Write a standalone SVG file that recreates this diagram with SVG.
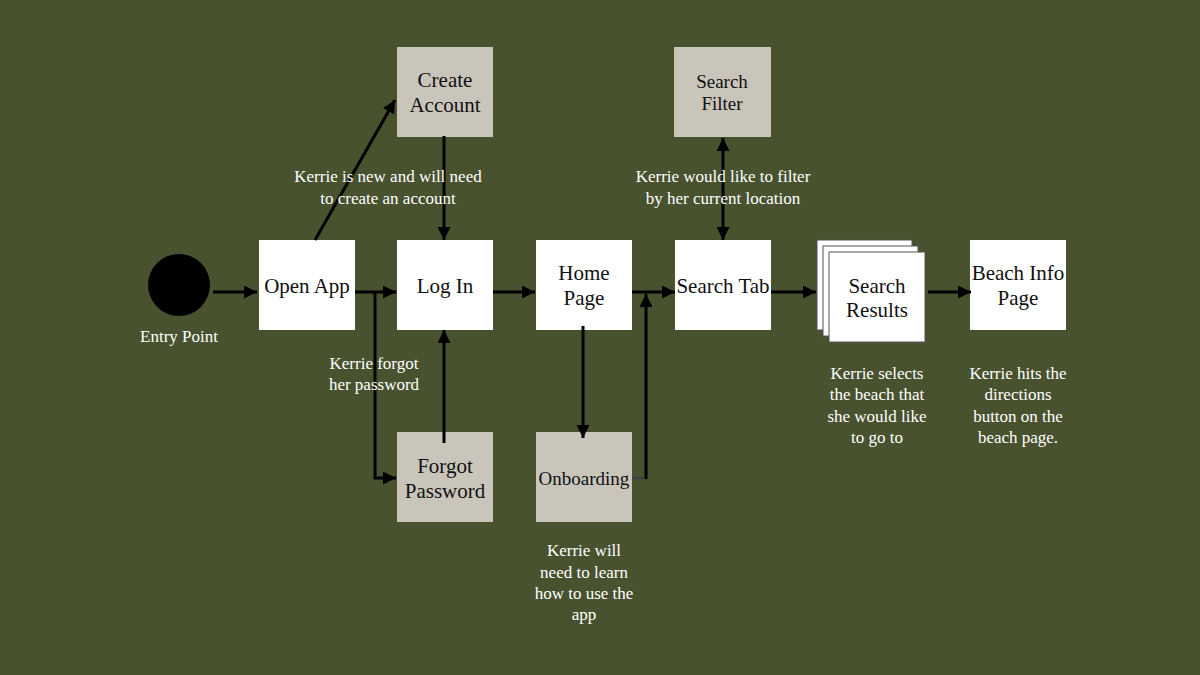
<svg xmlns="http://www.w3.org/2000/svg" width="1200" height="675" viewBox="0 0 1200 675">
<style>
.bg{fill:#48522F}
.w{fill:#FFFFFF}
.g{fill:#C9C5BB}
.sr{fill:#FFFFFF;stroke:#555;stroke-width:1}
.nt{font-family:"Liberation Serif",serif;font-size:21px;fill:#111;text-anchor:middle}
.ns{font-family:"Liberation Serif",serif;font-size:19px;fill:#111;text-anchor:middle}
.lt{font-family:"Liberation Serif",serif;font-size:17px;fill:#FFFFFF;text-anchor:middle}
.c{stroke:#000;stroke-width:3;fill:none}
</style>
<defs>
<marker id="ah" viewBox="0 0 12 12" refX="12" refY="6" markerWidth="13" markerHeight="13" markerUnits="userSpaceOnUse" orient="auto-start-reverse">
<path d="M0,0 L12,6 L0,12 z" fill="#000"/>
</marker>
</defs>
<rect class="bg" x="0" y="0" width="1200" height="675"/>

<g id="entry">
<circle cx="179" cy="285" r="31" fill="#000"/>
<text class="lt" x="179" y="342">Entry Point</text>
</g>
<g id="open-app">
<rect class="w" x="259" y="240" width="96" height="90"/>
<text class="nt" x="307" y="293">Open App</text>
</g>
<g id="log-in">
<rect class="w" x="397" y="240" width="96" height="90"/>
<text class="nt" x="445" y="293">Log In</text>
</g>
<g id="home-page">
<rect class="w" x="536" y="240" width="96" height="90"/>
<text class="nt" x="584" y="280">Home</text>
<text class="nt" x="584" y="305">Page</text>
</g>
<g id="search-tab">
<rect class="w" x="675" y="240" width="96" height="90"/>
<text class="nt" x="723" y="293">Search Tab</text>
</g>
<g id="search-results">
<rect class="sr" x="817" y="240" width="95" height="90"/>
<rect class="sr" x="823" y="246" width="95" height="90"/>
<rect class="sr" x="829" y="252" width="96" height="90"/>
<text class="nt" x="877" y="293">Search</text>
<text class="nt" x="877" y="317">Results</text>
</g>
<g id="beach-info">
<rect class="w" x="970" y="240" width="96" height="90"/>
<text class="nt" x="1018" y="280">Beach Info</text>
<text class="nt" x="1018" y="305">Page</text>
</g>
<g id="create-account">
<rect class="g" x="397" y="47" width="96" height="90"/>
<text class="nt" x="445" y="87">Create</text>
<text class="nt" x="445" y="112">Account</text>
</g>
<g id="search-filter">
<rect class="g" x="674" y="47" width="97" height="90"/>
<text class="ns" x="722" y="88">Search</text>
<text class="ns" x="722" y="110">Filter</text>
</g>
<g id="forgot-password">
<rect class="g" x="397" y="432" width="96" height="90"/>
<text class="nt" x="445" y="473">Forgot</text>
<text class="nt" x="445" y="498">Password</text>
</g>
<g id="onboarding">
<rect class="g" x="536" y="432" width="96" height="90"/>
<text class="ns" x="584" y="485">Onboarding</text>
</g>

<g id="connectors">
<line class="c" x1="213" y1="292" x2="257" y2="292" marker-end="url(#ah)"/>
<line class="c" x1="355" y1="292" x2="396" y2="292" marker-end="url(#ah)"/>
<polyline class="c" points="375,292 375,478 396,478" marker-end="url(#ah)"/>
<line class="c" x1="444" y1="443" x2="444" y2="330" marker-end="url(#ah)"/>
<line class="c" x1="444" y1="136" x2="444" y2="240" marker-end="url(#ah)"/>
<line class="c" x1="315" y1="240" x2="395" y2="100" marker-end="url(#ah)"/>
<line class="c" x1="493" y1="292" x2="535" y2="292" marker-end="url(#ah)"/>
<line class="c" x1="632" y1="292" x2="675" y2="292" marker-end="url(#ah)"/>
<line class="c" x1="583" y1="326" x2="583" y2="438" marker-end="url(#ah)"/>
<line x1="632" y1="478" x2="647" y2="478" stroke="#3C3F4A" stroke-width="2"/>
<line class="c" x1="646" y1="479" x2="646" y2="294" marker-end="url(#ah)"/>
<line class="c" x1="723" y1="138" x2="723" y2="240" marker-start="url(#ah)" marker-end="url(#ah)"/>
<line class="c" x1="771" y1="292" x2="816" y2="292" marker-end="url(#ah)"/>
<line class="c" x1="928" y1="292" x2="971" y2="292" marker-end="url(#ah)"/>
</g>

<g id="labels">
<text class="lt" x="388" y="182">Kerrie is new and will need</text>
<text class="lt" x="388" y="204">to create an account</text>
<text class="lt" x="374" y="369">Kerrie forgot</text>
<text class="lt" x="374" y="390">her password</text>
<text class="lt" x="723" y="182">Kerrie would like to filter</text>
<text class="lt" x="723" y="204">by her current location</text>
<text class="lt" x="877" y="379">Kerrie selects</text>
<text class="lt" x="877" y="400">the beach that</text>
<text class="lt" x="877" y="422">she would like</text>
<text class="lt" x="877" y="443">to go to</text>
<text class="lt" x="1018" y="379">Kerrie hits the</text>
<text class="lt" x="1018" y="400">directions</text>
<text class="lt" x="1018" y="422">button on the</text>
<text class="lt" x="1018" y="443">beach page.</text>
<text class="lt" x="584" y="556">Kerrie will</text>
<text class="lt" x="584" y="578">need to learn</text>
<text class="lt" x="584" y="599">how to use the</text>
<text class="lt" x="584" y="620">app</text>
</g>
</svg>
